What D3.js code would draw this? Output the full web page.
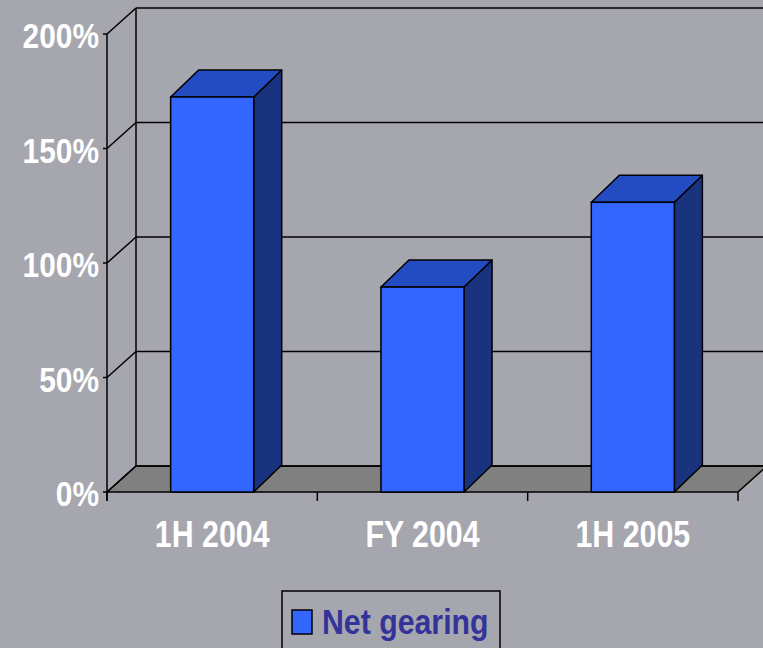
<!DOCTYPE html>
<html><head><meta charset="utf-8">
<script src="https://cdn.jsdelivr.net/npm/d3@7/dist/d3.min.js"></script>
<style>html,body{margin:0;padding:0;background:#A6A6AE;}svg{display:block;}</style>
</head><body>
<svg id="c" width="763" height="648"></svg>
<script>
const categories = ["1H 2004", "FY 2004", "1H 2005"];
const netGearing = [1.725, 0.895, 1.265];
const yTicks = [0, 0.5, 1, 1.5, 2];
const yTickLabels = ["0%", "50%", "100%", "150%", "200%"];
const seriesName = "Net gearing";

const svg = d3.select("#c");
const W = 763, H = 648;
svg.append("rect").attr("width", W).attr("height", H).attr("fill", "#A6A6AE");

const x0 = 107, x1 = 738;
const y = d3.scaleLinear().domain([0, 2]).range([492, 34]);
const x = d3.scaleBand().domain(categories).range([x0, x1]).paddingInner(0.605).paddingOuter(0.3025);
const wdx = 29, wdy = -26;   // wall depth
const bdx = 28, bdy = -27;   // bar depth

const g = svg.append("g");
// floor
g.append("path")
  .attr("d", `M${x0},${y(0)}L${x0+wdx},${y(0)+wdy}L${x1+wdx+40},${y(0)+wdy}L${x1+40},${y(0)}Z`)
  .attr("fill", "none");
g.append("path")
  .attr("d", `M${x0},${y(0)}L${x0+wdx},${y(0)+wdy}L${x1+wdx},${y(0)+wdy}L${x1},${y(0)}Z`)
  .attr("fill", "#808080").attr("stroke", "#000").attr("stroke-width", 1.5);

// gridlines on back wall and side wall
yTicks.forEach(t => {
  g.append("line").attr("x1", x0 + wdx).attr("x2", W + 10)
    .attr("y1", y(t) + wdy).attr("y2", y(t) + wdy)
    .attr("stroke", "#000").attr("stroke-width", 1.5);
  g.append("line").attr("x1", x0).attr("x2", x0 + wdx)
    .attr("y1", y(t)).attr("y2", y(t) + wdy)
    .attr("stroke", "#000").attr("stroke-width", 1.5);
  g.append("line").attr("x1", x0 - 4).attr("x2", x0)
    .attr("y1", y(t)).attr("y2", y(t))
    .attr("stroke", "#000").attr("stroke-width", 1.5);
});
// back wall left edge
g.append("line").attr("x1", x0 + wdx).attr("x2", x0 + wdx)
  .attr("y1", y(2) + wdy).attr("y2", y(0) + wdy).attr("stroke", "#000").attr("stroke-width", 1.5);
// front axis vertical
g.append("line").attr("x1", x0).attr("x2", x0)
  .attr("y1", y(2)).attr("y2", y(0) + 9).attr("stroke", "#000").attr("stroke-width", 1.5);

// category ticks
const step = x.step();
d3.range(categories.length + 1).forEach(i => {
  const xt = x0 + i * (x1 - x0) / categories.length;
  g.append("line").attr("x1", xt).attr("x2", xt).attr("y1", y(0)).attr("y2", y(0) + 9)
    .attr("stroke", "#000").attr("stroke-width", 1.5);
});

// bars
const bars = g.selectAll("g.bar").data(categories.map((c, i) => ({c, v: netGearing[i]})))
  .enter().append("g").attr("class", "bar");
bars.each(function(d) {
  const s = d3.select(this);
  const bx = x(d.c), bw = x.bandwidth(), top = y(d.v), bot = y(0);
  // side
  s.append("path")
    .attr("d", `M${bx+bw},${bot}L${bx+bw+bdx},${bot+bdy}L${bx+bw+bdx},${top+bdy}L${bx+bw},${top}Z`)
    .attr("fill", "#19337F").attr("stroke", "#000").attr("stroke-width", 1.5).attr("stroke-linejoin", "round");
  // top
  s.append("path")
    .attr("d", `M${bx},${top}L${bx+bdx},${top+bdy}L${bx+bw+bdx},${top+bdy}L${bx+bw},${top}Z`)
    .attr("fill", "#234CC2").attr("stroke", "#000").attr("stroke-width", 1.5).attr("stroke-linejoin", "round");
  // front
  s.append("rect").attr("x", bx).attr("y", top).attr("width", bw).attr("height", bot - top)
    .attr("fill", "#3366FF").attr("stroke", "#000").attr("stroke-width", 1.5);
});

// y labels
const font = "'Liberation Sans', Arial, sans-serif";
yTicks.forEach((t, i) => {
  svg.append("text").attr("transform", `translate(99,${y(t) + 14}) scale(0.83,1)`)
    .attr("text-anchor", "end").attr("font-family", font).attr("font-weight", "bold")
    .attr("font-size", 36).attr("fill", "#fff").text(yTickLabels[i]);
});
// x labels
categories.forEach(c => {
  svg.append("text").attr("transform", `translate(${x(c) + x.bandwidth()/2},547) scale(0.82,1)`)
    .attr("text-anchor", "middle").attr("font-family", font).attr("font-weight", "bold")
    .attr("font-size", 37).attr("fill", "#fff").text(c);
});

// legend
svg.append("rect").attr("x", 282).attr("y", 591).attr("width", 218).attr("height", 70)
  .attr("fill", "none").attr("stroke", "#000").attr("stroke-width", 1.5);
svg.append("rect").attr("x", 292).attr("y", 610).attr("width", 20).attr("height", 24)
  .attr("fill", "#3366FF").attr("stroke", "#000").attr("stroke-width", 1.5);
svg.append("text").attr("transform", "translate(322,634) scale(0.865,1)")
  .attr("font-family", font).attr("font-weight", "bold").attr("font-size", 35)
  .attr("fill", "#333399").text(seriesName);
</script>
</body></html>
